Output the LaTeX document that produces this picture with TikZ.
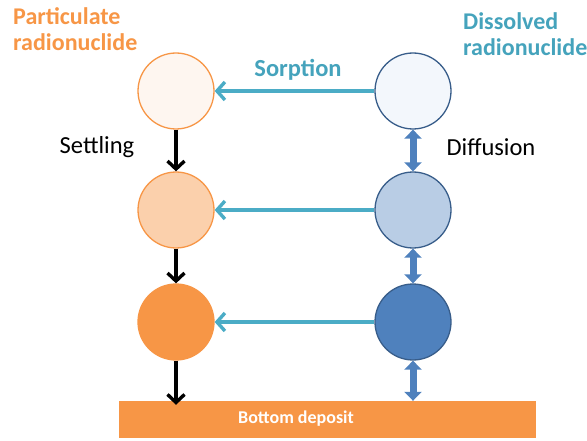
\documentclass[tikz,border=0pt]{standalone}
\usepackage{fontspec}
\setmainfont{Carlito}
\usetikzlibrary{arrows.meta, positioning}
\definecolor{Pumpkin}{HTML}{F79646}
\definecolor{PaleOrange}{HTML}{FBD0AC}
\definecolor{Cream}{HTML}{FEF6F0}
\definecolor{SeaBlue}{HTML}{4BACC6}
\definecolor{SeaText}{HTML}{45A3BC}
\definecolor{Steel}{HTML}{4F81BD}
\definecolor{SteelDark}{HTML}{385D8A}
\definecolor{SkyPale}{HTML}{B9CDE5}
\definecolor{SkyWhite}{HTML}{F3F7FC}

\begin{document}
\begin{tikzpicture}[x=1pt, y=-1pt,
    pnode/.style={circle, minimum size=76pt, inner sep=0pt, draw=Pumpkin, line width=1.3pt},
    dnode/.style={circle, minimum size=76pt, inner sep=0pt, draw=SteelDark, line width=1.3pt},
    settle/.style={line width=3.4pt, -{Straight Barb[length=8pt, width=17pt, line width=3.4pt]}},
    diffuse/.style={line width=7pt, draw=Steel, {Triangle[length=9pt, width=17pt]}-{Triangle[length=9pt, width=17pt]}},
    sorb/.style={line width=3.6pt, draw=SeaBlue, -{Straight Barb[length=8pt, width=18pt, line width=3.4pt]}},
    title/.style={font=\bfseries\fontsize{24}{26}\selectfont, align=left, anchor=north west, inner sep=0pt}]
    \useasboundingbox (0,0) rectangle (587,441);
    % particulate column
    \node[pnode, fill=Cream] (partA) at (176,91) {};
    \node[pnode, fill=PaleOrange] (partB) at (176,210) {};
    \node[pnode, fill=Pumpkin] (partC) at (176,322) {};
    % dissolved column
    \node[dnode, fill=SkyWhite] (dissA) at (413,91) {};
    \node[dnode, fill=SkyPale] (dissB) at (413,210) {};
    \node[dnode, fill=Steel] (dissC) at (413,322) {};
    % bottom layer
    \node[fill=Pumpkin, minimum width=417pt, minimum height=37pt, inner sep=0pt] (bottom) at (327,419.5) {};
    \node[text=white, font=\bfseries\fontsize{18}{20}\selectfont] (bottomText) at (296,419) {Bottom deposit};
    \coordinate (partEnd) at ([yshift=-4pt]partC |- bottom.north);
    \coordinate (dissEnd) at (dissC |- bottom.north);
    % settling
    \draw[settle] (partA) -- (partB);
    \draw[settle] (partB) -- (partC);
    \draw[settle] (partC) -- (partEnd);
    % diffusion
    \draw[diffuse] (dissA) -- (dissB);
    \draw[diffuse] (dissB) -- (dissC);
    \draw[diffuse] (dissC) -- (dissEnd);
    % sorption
    \draw[sorb] (dissA) -- (partA);
    \draw[sorb] (dissB) -- (partB);
    \draw[sorb] (dissC) -- (partC);
    % labels
    \node[title, text=Pumpkin] (partLabel) at (13,7) {Particulate\\radionuclide};
    \node[title, text=SeaText] (dissLabel) at (463,12) {Dissolved\\radionuclide};
    \node[font=\bfseries\fontsize{24.5}{26}\selectfont, text=SeaText] (sorbLabel) at (298,70) {Sorption};
    \node[font=\fontsize{24.5}{26}\selectfont] (settleLabel) at (97,147) {Settling};
    \node[font=\fontsize{24.5}{26}\selectfont] (diffLabel) at (491,147) {Diffusion};
\end{tikzpicture}
\end{document}
